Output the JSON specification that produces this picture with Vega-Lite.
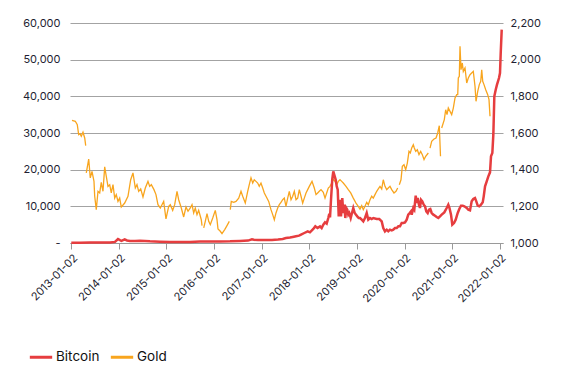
{
  "$schema": "https://vega.github.io/schema/vega-lite/v6.json",
  "width": 433,
  "height": 220,
  "autosize": {"type": "none"},
  "padding": {"left": 70, "top": 23, "right": 64, "bottom": 133},
  "background": "white",
  "config": {
    "font": "Inter",
    "view": {"stroke": null},
    "axis": {"labelFont": "Inter", "labelColor": "#1f1f33", "labelFontSize": 11, "title": null}
  },
  "datasets": {
    "gold": [
      {"year": 2013.015, "price": 1669}, {"year": 2013.084, "price": 1664}, {"year": 2013.126, "price": 1645},
      {"year": 2013.155, "price": 1591}, {"year": 2013.183, "price": 1596}, {"year": 2013.210, "price": 1582},
      {"year": 2013.246, "price": 1604}, {"year": 2013.282, "price": 1573}, {"year": 2013.303, "price": 1531},
      {"year": 2013.309, "price": null},
      {"year": 2013.315, "price": 1382}, {"year": 2013.366, "price": 1458}, {"year": 2013.399, "price": 1355},
      {"year": 2013.435, "price": 1391}, {"year": 2013.477, "price": 1336}, {"year": 2013.492, "price": 1255},
      {"year": 2013.525, "price": 1182}, {"year": 2013.561, "price": 1282}, {"year": 2013.597, "price": 1273},
      {"year": 2013.630, "price": 1331}, {"year": 2013.666, "price": 1282}, {"year": 2013.702, "price": 1415},
      {"year": 2013.735, "price": 1364}, {"year": 2013.771, "price": 1309}, {"year": 2013.807, "price": 1318},
      {"year": 2013.840, "price": 1273}, {"year": 2013.876, "price": 1318}, {"year": 2013.912, "price": 1245},
      {"year": 2013.945, "price": 1264}, {"year": 2013.981, "price": 1227}, {"year": 2014.017, "price": 1245},
      {"year": 2014.050, "price": 1196}, {"year": 2014.122, "price": 1218}, {"year": 2014.191, "price": 1255},
      {"year": 2014.248, "price": 1345}, {"year": 2014.296, "price": 1382}, {"year": 2014.345, "price": 1300},
      {"year": 2014.380, "price": 1318}, {"year": 2014.416, "price": 1282}, {"year": 2014.458, "price": 1295},
      {"year": 2014.506, "price": 1251}, {"year": 2014.555, "price": 1300}, {"year": 2014.611, "price": 1336},
      {"year": 2014.647, "price": 1309}, {"year": 2014.681, "price": 1318}, {"year": 2014.737, "price": 1291},
      {"year": 2014.779, "price": 1264}, {"year": 2014.821, "price": 1209}, {"year": 2014.870, "price": 1191},
      {"year": 2014.905, "price": 1209}, {"year": 2014.941, "price": 1227}, {"year": 2014.989, "price": 1131},
      {"year": 2015.046, "price": 1200}, {"year": 2015.080, "price": 1209}, {"year": 2015.130, "price": 1178},
      {"year": 2015.172, "price": 1209}, {"year": 2015.221, "price": 1282}, {"year": 2015.256, "price": 1236},
      {"year": 2015.311, "price": 1191}, {"year": 2015.361, "price": 1142}, {"year": 2015.410, "price": 1196},
      {"year": 2015.452, "price": 1173}, {"year": 2015.500, "price": 1191}, {"year": 2015.536, "price": 1209},
      {"year": 2015.571, "price": 1164}, {"year": 2015.605, "price": 1191}, {"year": 2015.641, "price": 1155},
      {"year": 2015.676, "price": 1178}, {"year": 2015.731, "price": 1127}, {"year": 2015.746, "price": 1095},
      {"year": 2015.763, "price": null},
      {"year": 2015.782, "price": 1082}, {"year": 2015.815, "price": 1118}, {"year": 2015.851, "price": 1160},
      {"year": 2015.887, "price": 1118}, {"year": 2015.920, "price": 1100}, {"year": 2015.971, "price": 1136},
      {"year": 2016.025, "price": 1178}, {"year": 2016.061, "price": 1127}, {"year": 2016.082, "price": 1076},
      {"year": 2016.130, "price": 1064}, {"year": 2016.166, "price": 1051}, {"year": 2016.223, "price": 1073},
      {"year": 2016.271, "price": 1095}, {"year": 2016.319, "price": 1118},
      {"year": 2016.330, "price": null},
      {"year": 2016.340, "price": 1182}, {"year": 2016.361, "price": 1227}, {"year": 2016.412, "price": 1222},
      {"year": 2016.460, "price": 1227}, {"year": 2016.517, "price": 1245}, {"year": 2016.565, "price": 1282},
      {"year": 2016.601, "price": 1255}, {"year": 2016.655, "price": 1218}, {"year": 2016.706, "price": 1282},
      {"year": 2016.739, "price": 1318}, {"year": 2016.775, "price": 1355}, {"year": 2016.811, "price": 1327},
      {"year": 2016.844, "price": 1345}, {"year": 2016.880, "price": 1336}, {"year": 2016.916, "price": 1327},
      {"year": 2016.949, "price": 1309}, {"year": 2016.985, "price": 1327}, {"year": 2017.021, "price": 1300},
      {"year": 2017.055, "price": 1273}, {"year": 2017.090, "price": 1255}, {"year": 2017.147, "price": 1227},
      {"year": 2017.195, "price": 1182}, {"year": 2017.231, "price": 1155}, {"year": 2017.265, "price": 1127},
      {"year": 2017.300, "price": 1164}, {"year": 2017.336, "price": 1191}, {"year": 2017.370, "price": 1209},
      {"year": 2017.405, "price": 1222}, {"year": 2017.441, "price": 1236}, {"year": 2017.475, "price": 1245},
      {"year": 2017.510, "price": 1200}, {"year": 2017.546, "price": 1245}, {"year": 2017.580, "price": 1282},
      {"year": 2017.616, "price": 1236}, {"year": 2017.651, "price": 1255}, {"year": 2017.685, "price": 1282},
      {"year": 2017.721, "price": 1236}, {"year": 2017.756, "price": 1245}, {"year": 2017.790, "price": 1291},
      {"year": 2017.826, "price": 1255}, {"year": 2017.861, "price": 1218}, {"year": 2017.895, "price": 1245},
      {"year": 2017.931, "price": 1273}, {"year": 2017.966, "price": 1291}, {"year": 2018.000, "price": 1309},
      {"year": 2018.057, "price": 1336}, {"year": 2018.105, "price": 1300}, {"year": 2018.141, "price": 1264},
      {"year": 2018.176, "price": 1273}, {"year": 2018.210, "price": 1282}, {"year": 2018.246, "price": 1291},
      {"year": 2018.294, "price": 1276}, {"year": 2018.330, "price": 1245}, {"year": 2018.365, "price": 1273},
      {"year": 2018.399, "price": 1300}, {"year": 2018.435, "price": 1309}, {"year": 2018.471, "price": 1327},
      {"year": 2018.504, "price": 1349}, {"year": 2018.540, "price": 1336}, {"year": 2018.576, "price": 1318},
      {"year": 2018.609, "price": 1336}, {"year": 2018.645, "price": 1345}, {"year": 2018.681, "price": 1336},
      {"year": 2018.714, "price": 1327}, {"year": 2018.771, "price": 1309}, {"year": 2018.819, "price": 1291},
      {"year": 2018.870, "price": 1273}, {"year": 2018.924, "price": 1245}, {"year": 2018.981, "price": 1218},
      {"year": 2019.029, "price": 1200}, {"year": 2019.065, "price": 1185}, {"year": 2019.101, "price": 1204},
      {"year": 2019.134, "price": 1182}, {"year": 2019.170, "price": 1200}, {"year": 2019.206, "price": 1222},
      {"year": 2019.239, "price": 1209}, {"year": 2019.275, "price": 1236}, {"year": 2019.311, "price": 1255},
      {"year": 2019.344, "price": 1245}, {"year": 2019.380, "price": 1264}, {"year": 2019.416, "price": 1282},
      {"year": 2019.449, "price": 1295}, {"year": 2019.485, "price": 1309}, {"year": 2019.521, "price": 1295},
      {"year": 2019.554, "price": 1345}, {"year": 2019.590, "price": 1309}, {"year": 2019.626, "price": 1291},
      {"year": 2019.659, "price": 1300}, {"year": 2019.695, "price": 1309}, {"year": 2019.731, "price": 1291},
      {"year": 2019.779, "price": 1273}, {"year": 2019.821, "price": 1282}, {"year": 2019.857, "price": 1300},
      {"year": 2019.874, "price": null},
      {"year": 2019.891, "price": 1318}, {"year": 2019.926, "price": 1345}, {"year": 2019.954, "price": 1418},
      {"year": 2019.989, "price": 1427}, {"year": 2020.025, "price": 1400}, {"year": 2020.059, "price": 1436},
      {"year": 2020.094, "price": 1500}, {"year": 2020.122, "price": 1491}, {"year": 2020.151, "price": 1518},
      {"year": 2020.185, "price": 1536}, {"year": 2020.206, "price": 1518}, {"year": 2020.235, "price": 1500},
      {"year": 2020.269, "price": 1509}, {"year": 2020.304, "price": 1482}, {"year": 2020.340, "price": 1500},
      {"year": 2020.374, "price": 1482}, {"year": 2020.410, "price": 1455}, {"year": 2020.445, "price": 1473},
      {"year": 2020.500, "price": 1491},
      {"year": 2020.519, "price": null},
      {"year": 2020.536, "price": 1518}, {"year": 2020.571, "price": 1555}, {"year": 2020.620, "price": 1567},
      {"year": 2020.662, "price": 1573}, {"year": 2020.697, "price": 1600}, {"year": 2020.731, "price": 1640},
      {"year": 2020.756, "price": 1473},
      {"year": 2020.767, "price": null},
      {"year": 2020.781, "price": 1627}, {"year": 2020.836, "price": 1673}, {"year": 2020.865, "price": 1727},
      {"year": 2020.893, "price": 1700}, {"year": 2020.920, "price": 1736}, {"year": 2020.956, "price": 1718},
      {"year": 2020.991, "price": 1700}, {"year": 2021.025, "price": 1736}, {"year": 2021.061, "price": 1791},
      {"year": 2021.097, "price": 1809}, {"year": 2021.118, "price": 1809}, {"year": 2021.130, "price": 1900},
      {"year": 2021.151, "price": 1909}, {"year": 2021.166, "price": 2073}, {"year": 2021.187, "price": 1945},
      {"year": 2021.214, "price": 1982}, {"year": 2021.235, "price": 1936}, {"year": 2021.271, "price": 1955},
      {"year": 2021.307, "price": 1873}, {"year": 2021.340, "price": 1900}, {"year": 2021.376, "price": 1918},
      {"year": 2021.411, "price": 1927}, {"year": 2021.445, "price": 1936}, {"year": 2021.481, "price": 1855},
      {"year": 2021.502, "price": 1773}, {"year": 2021.538, "price": 1827}, {"year": 2021.571, "price": 1864},
      {"year": 2021.601, "price": 1882}, {"year": 2021.622, "price": 1945}, {"year": 2021.643, "price": 1882},
      {"year": 2021.670, "price": 1864}, {"year": 2021.706, "price": 1836}, {"year": 2021.748, "price": 1809},
      {"year": 2021.775, "price": 1782}, {"year": 2021.796, "price": 1691}
    ],
    "bitcoin": [
      {"year": 2013.000, "price": 100}, {"year": 2013.183, "price": 100}, {"year": 2013.393, "price": 120},
      {"year": 2013.603, "price": 150}, {"year": 2013.813, "price": 150}, {"year": 2013.918, "price": 300},
      {"year": 2013.981, "price": 1090}, {"year": 2014.023, "price": 800}, {"year": 2014.054, "price": 600},
      {"year": 2014.122, "price": 1000}, {"year": 2014.170, "price": 700}, {"year": 2014.233, "price": 550},
      {"year": 2014.338, "price": 550}, {"year": 2014.443, "price": 600}, {"year": 2014.548, "price": 550},
      {"year": 2014.653, "price": 450}, {"year": 2014.758, "price": 400}, {"year": 2014.863, "price": 350},
      {"year": 2015.073, "price": 280}, {"year": 2015.284, "price": 250}, {"year": 2015.494, "price": 300},
      {"year": 2015.704, "price": 400}, {"year": 2015.914, "price": 420}, {"year": 2016.124, "price": 430},
      {"year": 2016.334, "price": 450}, {"year": 2016.544, "price": 550}, {"year": 2016.712, "price": 650},
      {"year": 2016.796, "price": 1000}, {"year": 2016.838, "price": 900}, {"year": 2016.922, "price": 800},
      {"year": 2017.069, "price": 800}, {"year": 2017.216, "price": 850}, {"year": 2017.342, "price": 950},
      {"year": 2017.441, "price": 1090}, {"year": 2017.510, "price": 1364}, {"year": 2017.594, "price": 1500},
      {"year": 2017.651, "price": 1636}, {"year": 2017.721, "price": 1818}, {"year": 2017.784, "price": 2000},
      {"year": 2017.826, "price": 2273}, {"year": 2017.895, "price": 2727}, {"year": 2017.966, "price": 3182},
      {"year": 2018.014, "price": 2900}, {"year": 2018.084, "price": 3818}, {"year": 2018.126, "price": 4545},
      {"year": 2018.172, "price": 4090}, {"year": 2018.225, "price": 4545}, {"year": 2018.259, "price": 4090},
      {"year": 2018.294, "price": 5000}, {"year": 2018.330, "price": 5636}, {"year": 2018.365, "price": 5270},
      {"year": 2018.399, "price": 6818}, {"year": 2018.420, "price": 8000}, {"year": 2018.435, "price": 7000},
      {"year": 2018.456, "price": 11800}, {"year": 2018.483, "price": 17450}, {"year": 2018.504, "price": 19540},
      {"year": 2018.525, "price": 18600}, {"year": 2018.555, "price": 17270}, {"year": 2018.576, "price": 15450},
      {"year": 2018.597, "price": 14545}, {"year": 2018.618, "price": 7270}, {"year": 2018.630, "price": 9090},
      {"year": 2018.645, "price": 11800}, {"year": 2018.666, "price": 7270}, {"year": 2018.693, "price": 12270},
      {"year": 2018.714, "price": 8180}, {"year": 2018.735, "price": 10450}, {"year": 2018.756, "price": 6818},
      {"year": 2018.777, "price": 9545}, {"year": 2018.798, "price": 9090}, {"year": 2018.819, "price": 7727},
      {"year": 2018.840, "price": 8180}, {"year": 2018.870, "price": 6818}, {"year": 2018.897, "price": 8180},
      {"year": 2018.924, "price": 9545}, {"year": 2018.954, "price": 8180}, {"year": 2018.981, "price": 7727},
      {"year": 2019.008, "price": 7270}, {"year": 2019.038, "price": 6818}, {"year": 2019.065, "price": 6818},
      {"year": 2019.101, "price": 6360}, {"year": 2019.134, "price": 5900}, {"year": 2019.170, "price": 6818},
      {"year": 2019.206, "price": 8180}, {"year": 2019.239, "price": 6360}, {"year": 2019.275, "price": 6818},
      {"year": 2019.311, "price": 6545}, {"year": 2019.344, "price": 6818}, {"year": 2019.416, "price": 6545},
      {"year": 2019.470, "price": 6545}, {"year": 2019.521, "price": 5900}, {"year": 2019.554, "price": 4090},
      {"year": 2019.590, "price": 3180}, {"year": 2019.626, "price": 3636}, {"year": 2019.659, "price": 3180},
      {"year": 2019.695, "price": 3636}, {"year": 2019.731, "price": 3450}, {"year": 2019.764, "price": 3636},
      {"year": 2019.800, "price": 4090}, {"year": 2019.836, "price": 4090}, {"year": 2019.870, "price": 4545},
      {"year": 2019.905, "price": 4545}, {"year": 2019.941, "price": 5450}, {"year": 2019.975, "price": 5450},
      {"year": 2020.010, "price": 5600}, {"year": 2020.046, "price": 6360}, {"year": 2020.079, "price": 7727},
      {"year": 2020.109, "price": 8180}, {"year": 2020.136, "price": 8636}, {"year": 2020.151, "price": 7727},
      {"year": 2020.185, "price": 9545}, {"year": 2020.206, "price": 9090}, {"year": 2020.235, "price": 12900},
      {"year": 2020.256, "price": 10900}, {"year": 2020.277, "price": 12270}, {"year": 2020.304, "price": 10450},
      {"year": 2020.325, "price": 9545}, {"year": 2020.347, "price": 11800}, {"year": 2020.374, "price": 11360},
      {"year": 2020.403, "price": 10450}, {"year": 2020.431, "price": 10000}, {"year": 2020.458, "price": 8636},
      {"year": 2020.487, "price": 8180}, {"year": 2020.515, "price": 9090}, {"year": 2020.542, "price": 9270},
      {"year": 2020.571, "price": 8180}, {"year": 2020.605, "price": 7727}, {"year": 2020.641, "price": 7450},
      {"year": 2020.676, "price": 7090}, {"year": 2020.710, "price": 6818}, {"year": 2020.746, "price": 7270},
      {"year": 2020.781, "price": 7727}, {"year": 2020.836, "price": 8360}, {"year": 2020.886, "price": 9545},
      {"year": 2020.920, "price": 10450}, {"year": 2020.945, "price": 9545}, {"year": 2020.977, "price": 7727},
      {"year": 2021.004, "price": 5000}, {"year": 2021.040, "price": 5450}, {"year": 2021.075, "price": 6360},
      {"year": 2021.118, "price": 8180}, {"year": 2021.151, "price": 9270}, {"year": 2021.187, "price": 10180},
      {"year": 2021.223, "price": 10180}, {"year": 2021.256, "price": 10000}, {"year": 2021.307, "price": 9545},
      {"year": 2021.340, "price": 9090}, {"year": 2021.376, "price": 8900}, {"year": 2021.411, "price": 11360},
      {"year": 2021.445, "price": 12000}, {"year": 2021.481, "price": 12270}, {"year": 2021.508, "price": 11360},
      {"year": 2021.538, "price": 10180}, {"year": 2021.571, "price": 10000}, {"year": 2021.607, "price": 10450},
      {"year": 2021.643, "price": 11090}, {"year": 2021.664, "price": 12727}, {"year": 2021.692, "price": 15450},
      {"year": 2021.727, "price": 16820}, {"year": 2021.761, "price": 18180}, {"year": 2021.796, "price": 19270},
      {"year": 2021.817, "price": 23630}, {"year": 2021.845, "price": 24540}, {"year": 2021.866, "price": 29545},
      {"year": 2021.887, "price": 40000}, {"year": 2021.916, "price": 41800}, {"year": 2021.943, "price": 43180},
      {"year": 2021.985, "price": 45000}, {"year": 2022.006, "price": 46360}, {"year": 2022.021, "price": 51800},
      {"year": 2022.042, "price": 58180}
    ]
  },
  "layer": [
    {
      "data": {"name": "gold"},
      "mark": {"type": "line", "strokeWidth": 1.3, "invalid": "break-paths-show-domains"},
      "encoding": {
        "x": {
          "field": "year", "type": "quantitative",
          "scale": {"domain": [2012.973, 2022.069], "nice": false, "zero": false},
          "axis": {
            "values": [2013, 2014, 2015, 2016, 2017, 2018, 2019, 2020, 2021, 2022],
            "labelExpr": "datum.value + '-01-02'",
            "labelAngle": -45, "labelOverlap": false, "grid": false,
            "domain": true, "domainColor": "#9a9a9a", "domainWidth": 1,
            "ticks": true, "tickColor": "#9a9a9a", "tickSize": 6,
            "labelPadding": 3, "labelColor": "#1f1f33", "title": null
          }
        },
        "y": {
          "field": "price", "type": "quantitative",
          "scale": {"domain": [1000, 2200], "nice": false, "zero": false},
          "axis": {
            "orient": "right", "values": [1000, 1200, 1400, 1600, 1800, 2000, 2200],
            "labelExpr": "format(datum.value, ',')", "labelOverlap": false,
            "grid": false, "domain": false, "ticks": false,
            "labelPadding": 7, "title": null
          }
        },
        "color": {"datum": "Gold"}
      }
    },
    {
      "data": {"name": "bitcoin"},
      "mark": {"type": "line", "strokeWidth": 2.5},
      "encoding": {
        "x": {"field": "year", "type": "quantitative"},
        "y": {
          "field": "price", "type": "quantitative",
          "scale": {"domain": [0, 60000], "nice": false},
          "axis": {
            "orient": "left", "values": [0, 10000, 20000, 30000, 40000, 50000, 60000],
            "labelExpr": "datum.value === 0 ? '-\u00a0\u00a0\u00a0\u00a0\u00a0' : format(datum.value, ',')",
            "labelOverlap": false,
            "grid": true, "gridColor": "#a3a3a3", "gridWidth": 1,
            "domain": false, "ticks": false, "labelPadding": 10, "title": null
          }
        },
        "color": {
          "datum": "Bitcoin",
          "scale": {"domain": ["Bitcoin", "Gold"], "range": ["#e63d3f", "#f8a51e"]},
          "legend": {
            "orient": "none", "legendX": -42, "legendY": 321,
            "direction": "horizontal", "title": null,
            "symbolType": "stroke", "symbolSize": 500, "symbolStrokeWidth": 3,
            "labelFontSize": 13.5, "labelColor": "#111111", "labelFont": "Inter",
            "columnPadding": 4, "labelOffset": 2
          }
        }
      }
    }
  ],
  "resolve": {"scale": {"y": "independent"}}
}
